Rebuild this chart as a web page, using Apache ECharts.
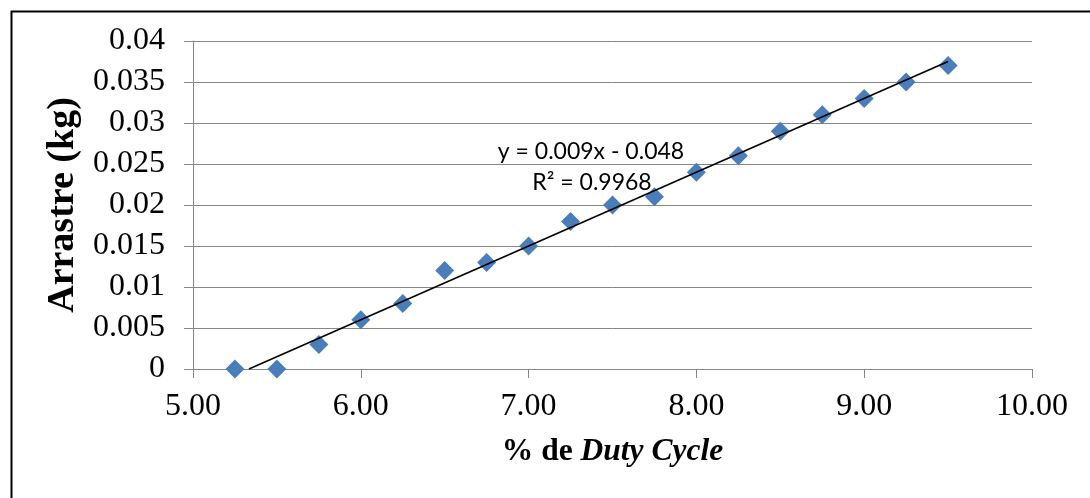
<!DOCTYPE html>
<html>
<head>
<meta charset="utf-8">
<script src="https://cdn.jsdelivr.net/npm/echarts@6/dist/echarts.min.js"></script>
<style>html,body{margin:0;padding:0;background:#fff;}#c{width:1090px;height:498px;}</style>
</head>
<body>
<div id="c"></div>
<script>
const dutyCycle = [5.25, 5.5, 5.75, 6.0, 6.25, 6.5, 6.75, 7.0, 7.25, 7.5, 7.75, 8.0, 8.25, 8.5, 8.75, 9.0, 9.25, 9.5];
const arrastre = [0, 0, 0.003, 0.006, 0.008, 0.012, 0.013, 0.015, 0.018, 0.020, 0.021, 0.024, 0.026, 0.029, 0.031, 0.033, 0.035, 0.037];
const trendSlope = 0.009;
const trendIntercept = -0.048;
const trendLabel = 'y = 0.009x - 0.048';
const r2Label = 'R² = 0.9968';

const points = dutyCycle.map((x, i) => [x, arrastre[i]]);
const xStart = Math.max(-trendIntercept / trendSlope, dutyCycle[0]);
const xEnd = dutyCycle[dutyCycle.length - 1];
const trend = [[xStart, trendSlope * xStart + trendIntercept], [xEnd, trendSlope * xEnd + trendIntercept]];

const chart = echarts.init(document.getElementById('c'));
const gridColor = '#868686';
chart.setOption({
  animation: false,
  backgroundColor: '#fff',
  grid: {left: 193, right: 58, top: 41, bottom: 129},
  xAxis: {
    type: 'value', min: 5, max: 10, interval: 1,
    name: '{b|% de }{bi|Duty Cycle}', nameLocation: 'middle', nameGap: 67,
    nameTextStyle: {
      rich: {
        b: {fontFamily: 'Liberation Serif', fontWeight: 'bold', fontSize: 31.5, color: '#000'},
        bi: {fontFamily: 'Liberation Serif', fontWeight: 'bold', fontStyle: 'italic', fontSize: 31.5, color: '#000'}
      }
    },
    axisLine: {show: true, lineStyle: {color: gridColor, width: 1}},
    axisTick: {show: true, length: 9, lineStyle: {color: gridColor}},
    splitLine: {show: false},
    axisLabel: {fontFamily: 'Liberation Serif', fontSize: 32, color: '#000', margin: 22,
      formatter: v => v.toFixed(2)}
  },
  yAxis: {
    type: 'value', min: 0, max: 0.04, interval: 0.005,
    name: 'Arrastre (kg)', nameLocation: 'middle', nameGap: 106,
    nameTextStyle: {fontFamily: 'Liberation Serif', fontWeight: 'bold', fontSize: 38, color: '#000'},
    axisLine: {show: true, lineStyle: {color: gridColor, width: 1}},
    axisTick: {show: true, length: 9, lineStyle: {color: gridColor}},
    splitLine: {show: true, lineStyle: {color: gridColor, width: 1}},
    axisLabel: {fontFamily: 'Liberation Serif', fontSize: 32, color: '#000', margin: 28,
      formatter: v => String(Number(v.toFixed(3)))}
  },
  series: [
    {
      type: 'line', data: trend, symbol: 'none', z: 3,
      lineStyle: {color: '#000', width: 1.6}, silent: true
    },
    {
      type: 'scatter', data: points, symbol: 'diamond', symbolSize: 19, z: 2,
      itemStyle: {color: '#4a7ebb', opacity: 1}
    }
  ],
  graphic: [
    {type: 'rect', left: 9, top: 9, shape: {width: 1100, height: 510},
      style: {fill: 'none', stroke: '#000', lineWidth: 2}, z: 100},
    {type: 'text', style: {text: trendLabel, x: 591, y: 152, align: 'center', verticalAlign: 'middle',
      font: '23px Lato', fill: '#000'}, z: 50},
    {type: 'text', style: {text: r2Label, x: 592, y: 183, align: 'center', verticalAlign: 'middle',
      font: '23px Lato', fill: '#000'}, z: 50}
  ]
});
</script>
</body>
</html>
